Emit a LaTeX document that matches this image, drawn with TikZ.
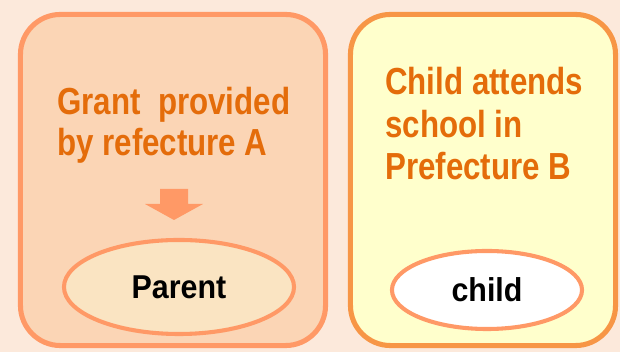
\documentclass[tikz,border=0pt]{standalone}
\usepackage{fontspec}
\usetikzlibrary{shapes.geometric}
\newfontfamily\headfont{Liberation Sans}[FakeStretch=0.83]
\newfontfamily\tagfont{Liberation Sans}[FakeStretch=0.92]
\definecolor{bgc}{HTML}{FCE9DB}
\definecolor{leftfill}{HTML}{FBD5B5}
\definecolor{rightfill}{HTML}{FFFFCC}
\definecolor{salmon}{HTML}{FF9966}
\definecolor{rightedge}{HTML}{F79646}
\definecolor{headc}{HTML}{E46C0A}
\definecolor{parentfill}{HTML}{FAE4C2}
\tikzset{
  panel/.style={draw, line width=3.6pt, rounded corners=1cm, inner sep=0pt},
  head/.style={text=headc, align=left, inner sep=0pt, anchor=north west,
    font=\headfont\bfseries\fontsize{26.8}{29}\selectfont},
  tag/.style={ellipse, draw=salmon, line width=2.9pt, inner sep=0pt,
    font=\tagfont\bfseries\fontsize{23.5}{26}\selectfont}
}
\begin{document}
\begin{tikzpicture}[x=0.025cm, y=-0.025cm]
    % Fundo
    \fill[bgc] (0,0) rectangle (620,352);
    \useasboundingbox (0,0) rectangle (620,352);

    % Caixas
    \node[panel, draw=salmon, fill=leftfill, minimum width=7.625cm, minimum height=8.275cm] (prefA) at (173,180) {};
    \node[panel, draw=rightedge, fill=rightfill, minimum width=6.625cm, minimum height=8.275cm] (prefB) at (483,180) {};

    % Textos
    \node[head] (grant) at (57,87) {Grant\ \ provided\\by refecture A};
    \node[head, font=\headfont\bfseries\fontsize{26.8}{30.2}\selectfont] (school) at (385,67) {Child attends\\school in\\Prefecture B};

    % Seta
    \fill[salmon] (160,189) -- (188,189) -- (188,204) -- (203,204) -- (174,220) -- (145,204) -- (160,204) -- cycle;

    % Elipses
    \node[tag, fill=parentfill, minimum width=5.75cm, minimum height=2.35cm] (parent) at (179,287) {Parent};
    \node[tag, fill=white, minimum width=4.75cm, minimum height=1.95cm] (child) at (487,290) {child};
\end{tikzpicture}
\end{document}
